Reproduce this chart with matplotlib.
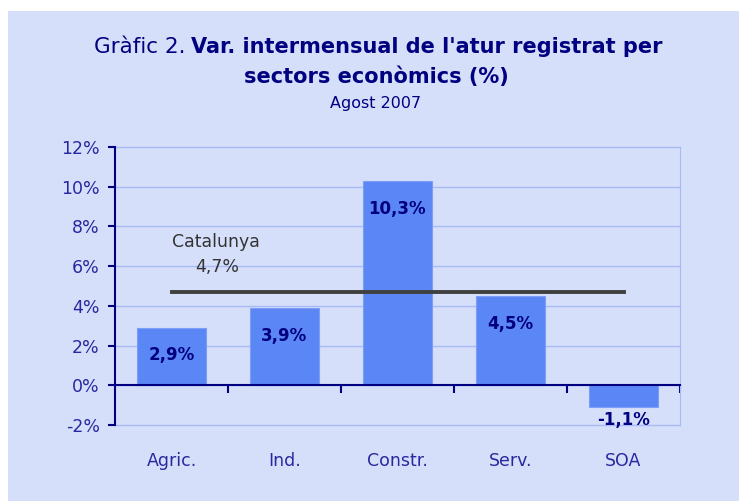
import matplotlib.pyplot as plt
from matplotlib.patches import Rectangle

sectors = ['Agric.', 'Ind.', 'Constr.', 'Serv.', 'SOA']
values = [2.9, 3.9, 10.3, 4.5, -1.1]
labels = ['2,9%', '3,9%', '10,3%', '4,5%', '-1,1%']
catalunya = 4.7
yticks = [-2, 0, 2, 4, 6, 8, 10, 12]

bg = '#D6DFFA'
navy = '#000080'
grid = '#A6BAF5'

fig = plt.figure(figsize=(7.39, 5.01), dpi=100)
fig.patch.set_facecolor('white')
fig.patches.append(Rectangle((8 / 739, 0), 1, 1 - 11 / 501, transform=fig.transFigure,
                             facecolor=bg, edgecolor='none', zorder=-10))

ax = fig.add_axes([115 / 739, 1 - 425 / 501, 565 / 739, 278 / 501])
ax.set_facecolor(bg)

x = list(range(len(sectors)))
ax.bar(x, values, width=0.61, color='#5B86F5', edgecolor='#7C9EF7', linewidth=0.8, zorder=3)

for xi, v, lab in zip(x, values, labels):
    off = -20 if v > 0 else -9
    ax.annotate(lab, (xi, v), xytext=(0, off), textcoords='offset points',
                ha='center', va='center', fontsize=12, color=navy, fontweight='bold', zorder=5)

ax.plot([x[0], x[-1]], [catalunya, catalunya], color='#404040', linewidth=2.8, zorder=4)
ax.text(0.39, 7.2, 'Catalunya', ha='center', va='center', fontsize=12.5, color='#333333')
ax.text(0.40, 5.95, '4,7%', ha='center', va='center', fontsize=12.5, color='#333333')

ax.set_xlim(-0.5, len(sectors) - 0.5)
ax.set_ylim(-2, 12)
ax.set_yticks(yticks)
ax.set_yticklabels([f'{t}%' for t in yticks])
for t in yticks:
    ax.axhline(t, color=grid, linewidth=1, zorder=0, clip_on=False)

ax.set_xticks(x)
ax.set_xticklabels(sectors)
ax.set_xticks([i + 0.5 for i in x], minor=True)
ax.tick_params(axis='x', which='major', length=0, pad=48, labelsize=12.5, labelcolor='#2828A0')
ax.tick_params(axis='x', which='minor', length=6, width=1.5, color=navy, direction='out')
ax.tick_params(axis='y', length=5, width=1.5, color=navy, direction='out', pad=6,
               labelsize=12.5, labelcolor='#2828A0')

ax.spines['bottom'].set_position(('data', 0))
ax.spines['bottom'].set_color(navy)
ax.spines['bottom'].set_linewidth(1.5)
ax.spines['bottom'].set_zorder(6)
ax.spines['left'].set_color(navy)
ax.spines['left'].set_linewidth(1.5)
ax.spines['left'].set_zorder(6)
ax.spines['top'].set_visible(False)
ax.spines['right'].set_color(grid)

fig.text(186 / 739, 1 - 47 / 501, 'Gràfic 2.', ha='right', va='center', fontsize=15.5, color=navy)
fig.text(191 / 739, 1 - 47 / 501, "Var. intermensual de l'atur registrat per", ha='left', va='center',
         fontsize=15, color=navy, fontweight='bold')
fig.text(376 / 739, 1 - 77 / 501, 'sectors econòmics (%)', ha='center', va='center',
         fontsize=15, color=navy, fontweight='bold')
fig.text(376 / 739, 1 - 104 / 501, 'Agost 2007', ha='center', va='center', fontsize=11.5, color=navy)

fig.savefig('out.png', dpi=100, facecolor=fig.get_facecolor())
